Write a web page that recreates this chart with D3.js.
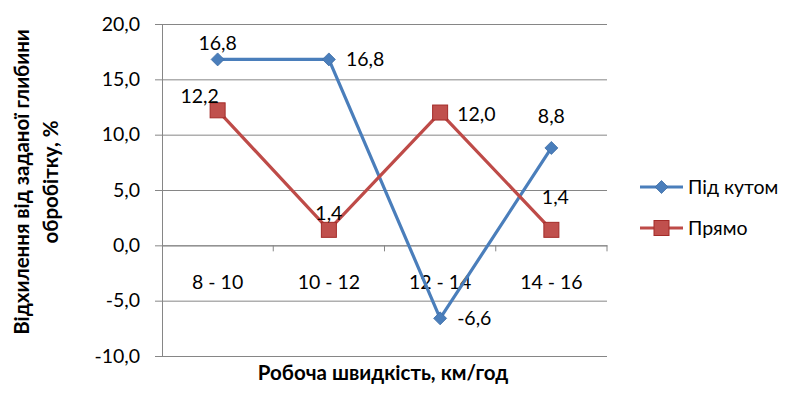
<!DOCTYPE html>
<html>
<head>
<meta charset="utf-8">
<script src="https://cdn.jsdelivr.net/npm/d3@7"></script>
<style>
  body { margin: 0; background: #fff; }
  text { font-family: Lato, "Open Sans", sans-serif; fill: #000; }
</style>
</head>
<body>
<div id="chart"></div>
<script>
var width = 800
var height = 396

var categories = ["8 - 10", "10 - 12", "12 - 14", "14 - 16"];
var seriesNames = ["Під кутом", "Прямо"];
var pidKutom = [16.8, 16.8, -6.6, 8.8];
var pryamo = [12.2, 1.4, 12.0, 1.4];
var yTicks = [-10, -5, 0, 5, 10, 15, 20];

// label offsets (dx, dy from the marker), by series and point
var labelPos = [
    [[0, -16, "middle"], [17, 0, "start"], [17, 0, "start"], [0, -32, "middle"]],
    [[-18, -14, "middle"], [0, -17, "middle"], [17, 2, "start"], [4, -33, "middle"]]
];

var margin = {left: 162, right: 193, top: 24, bottom: 40};
var fontSize = 19.5;

var svg = d3.select("#chart")
    .append("svg")
    .attr("width", width)
    .attr("height", height);

var x = d3.scaleBand()
    .domain(categories)
    .range([margin.left, width - margin.right]);

var y = d3.scaleLinear()
    .domain([-10, 20])
    .range([height - margin.bottom, margin.top]);

var fmt = function(v) { return d3.format(".1f")(v).replace(".", ",").replace("−", "-"); };

// gridlines + y axis
var yAxis = d3.axisLeft(y)
    .tickValues(yTicks)
    .tickSize(-(width - margin.right - margin.left))
    .tickSizeOuter(0)
    .tickPadding(22)
    .tickFormat(fmt);

var gy = svg.append("g")
    .attr("transform", "translate(" + margin.left + ",0)")
    .call(yAxis);
gy.select(".domain").attr("stroke", "#868686");
gy.selectAll(".tick line")
    .attr("stroke", "#868686")
    .attr("x1", -7);
gy.selectAll(".tick text")
    .attr("font-size", fontSize)
    .attr("font-family", "Lato, sans-serif");

// category axis sits on zero
var xAxis = d3.axisBottom(x)
    .tickSize(0)
    .tickPadding(30);
var gx = svg.append("g")
    .attr("transform", "translate(0," + y(0) + ")")
    .call(xAxis);
gx.select(".domain").attr("stroke", "#868686");
gx.selectAll(".tick text")
    .attr("font-size", fontSize)
    .attr("font-family", "Lato, sans-serif");

// tick marks between categories
gx.selectAll(".bnd")
    .data(categories)
    .enter()
    .append("line")
    .attr("x1", function(d) { return x(d) + x.bandwidth(); })
    .attr("x2", function(d) { return x(d) + x.bandwidth(); })
    .attr("y1", 0)
    .attr("y2", 6)
    .attr("stroke", "#868686");

var line = d3.line()
    .x(function(d, i) { return x(categories[i]) + x.bandwidth() / 2; })
    .y(function(d) { return y(d); });

var series = [
    {name: seriesNames[0], values: pidKutom, color: "#4A7EBB", marker: "diamond"},
    {name: seriesNames[1], values: pryamo, color: "#BE4B48", marker: "square"}
];

function drawMarker(g, type, color) {
    if (type == "diamond") {
        g.append("path")
            .attr("d", "M0,-6.5L6.5,0L0,6.5L-6.5,0Z")
            .attr("fill", color)
            .attr("stroke", "#3F6EA6")
            .attr("stroke-width", 0.8);
    } else {
        g.append("rect")
            .attr("x", -7.5)
            .attr("y", -7.5)
            .attr("width", 15)
            .attr("height", 15)
            .attr("fill", "#C0504D")
            .attr("stroke", "#A32B28")
            .attr("stroke-width", 1);
    }
}

series.forEach(function(s, si) {
    svg.append("path")
        .datum(s.values)
        .attr("fill", "none")
        .attr("stroke", s.color)
        .attr("stroke-width", 3.2)
        .attr("stroke-linejoin", "round")
        .attr("d", line);

    s.values.forEach(function(v, i) {
        var cx = x(categories[i]) + x.bandwidth() / 2;
        var cy = y(v);
        var g = svg.append("g").attr("transform", "translate(" + cx + "," + cy + ")");
        drawMarker(g, s.marker, s.color);

        var lp = labelPos[si][i];
        svg.append("text")
            .attr("x", cx + lp[0])
            .attr("y", cy + lp[1])
            .attr("dy", "0.35em")
            .attr("text-anchor", lp[2])
            .attr("font-size", fontSize)
            .text(fmt(v));
    });
});

// axis titles
var yTitle = svg.append("text")
    .attr("transform", "translate(29,182) rotate(-90)")
    .attr("text-anchor", "middle")
    .attr("font-size", 20.5)
    .attr("font-weight", "bold");
yTitle.append("tspan").attr("x", 0).attr("dy", 0).text("Відхилення від заданої глибини");
yTitle.append("tspan").attr("x", 0).attr("dy", 29).text("обробітку, %");

svg.append("text")
    .attr("x", 383)
    .attr("y", 380)
    .attr("text-anchor", "middle")
    .attr("font-size", 20.5)
    .attr("font-weight", "bold")
    .text("Робоча швидкість, км/год");

// legend
var legend = svg.append("g");
series.forEach(function(s, i) {
    var ly = 187 + i * 41;
    legend.append("line")
        .attr("x1", 640)
        .attr("x2", 683)
        .attr("y1", ly)
        .attr("y2", ly)
        .attr("stroke", s.color)
        .attr("stroke-width", 3);
    var g = legend.append("g").attr("transform", "translate(661.5," + ly + ")");
    drawMarker(g, s.marker, s.color);
    legend.append("text")
        .attr("x", 688)
        .attr("y", ly)
        .attr("dy", "0.35em")
        .attr("font-size", fontSize)
        .text(s.name);
});
</script>
</body>
</html>
